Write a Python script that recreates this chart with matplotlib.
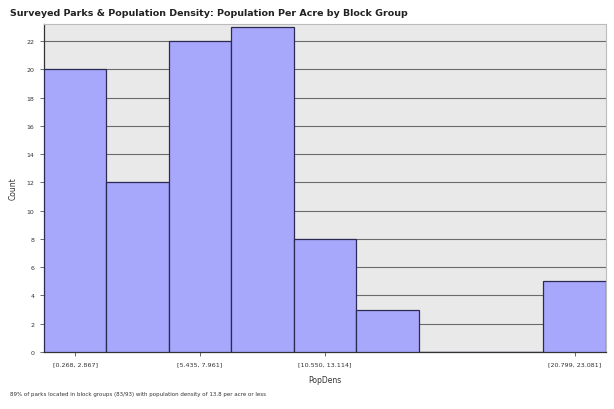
import matplotlib
matplotlib.use("Agg")
import matplotlib.pyplot as plt
import numpy as np

# histogram bins (9 equal-width bins) and counts
counts = [20, 12, 22, 23, 8, 3, 0, 0, 5]
label_bins = [0, 2, 4, 8]
bin_labels = ["[0.268, 2.867]", "[5.435, 7.961]", "[10.550, 13.114]", "[20.799, 23.081]"]
y_ticks = list(range(0, 24, 2))

title = "Surveyed Parks & Population Density: Population Per Acre by Block Group"
footnote = "89% of parks located in block groups (83/93) with population density of 13.8 per acre or less"

fig = plt.figure(figsize=(6.14, 4.10), dpi=100)
ax = fig.add_axes([0.0717, 0.139, 0.915, 0.8])
ax.set_facecolor("#e9e9e9")

x = np.arange(len(counts))
ax.bar(x, counts, width=1.0, align="edge", color="#a7a7fb",
       edgecolor="#2a2a55", linewidth=0.9, zorder=3)

ax.set_xlim(0, len(counts))
ax.set_ylim(0, 23.2)
ax.set_yticks(y_ticks)
ax.set_yticklabels([str(v) for v in y_ticks], fontsize=4.5, color="#333333")
ax.set_xticks([b + 0.5 for b in label_bins])
ax.set_xticklabels(bin_labels, fontsize=4.6, color="#333333")
ax.tick_params(axis="both", length=3, width=0.6, color="#555555", pad=4)

ax.yaxis.grid(True, color="#6a6a6a", linewidth=0.8, zorder=0)
ax.set_axisbelow(True)
for side in ["top", "right"]:
    ax.spines[side].set_color("#bbbbbb")
for side in ["left", "bottom"]:
    ax.spines[side].set_color("#333333")
    ax.spines[side].set_linewidth(0.9)

ax.set_ylabel("Count", fontsize=5.5, color="#333333", labelpad=6)
ax.set_xlabel("PopDens", fontsize=5.5, color="#333333", labelpad=6)

fig.text(0.016, 0.968, title, fontsize=6.8, fontweight="bold", color="#222222",
         ha="left", va="center")
fig.text(0.016, 0.038, footnote, fontsize=4.0, color="#333333", ha="left", va="center")

fig.savefig("out.png", dpi=100)
